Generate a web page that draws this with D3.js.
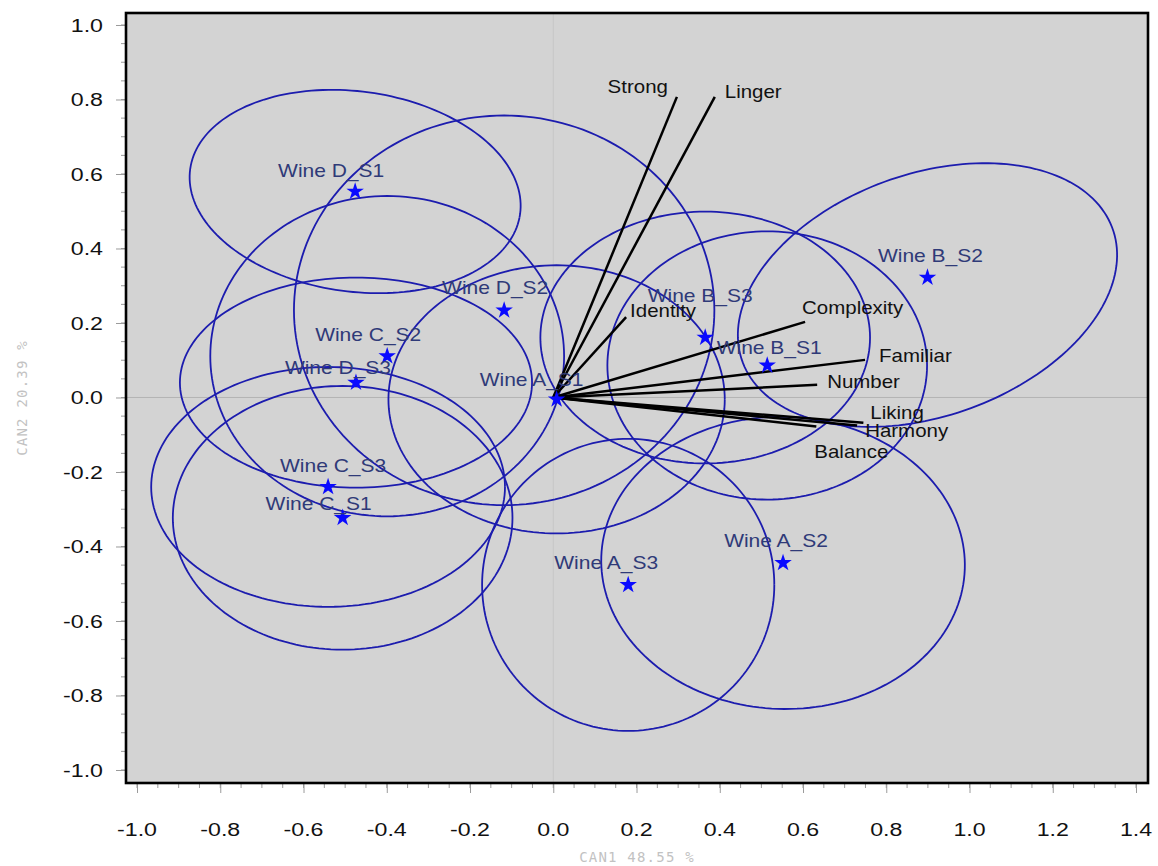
<!DOCTYPE html>
<html><head><meta charset="utf-8">
<script src="https://cdn.jsdelivr.net/npm/d3@7"></script>
<style>body{margin:0;background:#fff}svg{display:block}</style>
</head><body><svg id="c" width="1158" height="866"></svg>
<script>
// ---------------- data ----------------
const wines  = ['Wine D_S1','Wine D_S2','Wine C_S2','Wine D_S3','Wine A_S1','Wine C_S3','Wine C_S1','Wine A_S3','Wine A_S2','Wine B_S3','Wine B_S1','Wine B_S2'];
const wineX  = [-0.476,-0.118,-0.399,-0.474, 0.008,-0.541,-0.506, 0.180, 0.552, 0.365, 0.514, 0.899];
const wineY  = [ 0.553, 0.234, 0.111, 0.040,-0.005,-0.240,-0.323,-0.503,-0.444, 0.161, 0.086, 0.322];

// confidence ellipses (centre, semi-axes in data units, tilt in degrees)
const ellCx    = [-0.476,-0.118,-0.399,-0.474, 0.008,-0.541,-0.506, 0.180, 0.552, 0.365, 0.514, 0.899];
const ellCy    = [ 0.553, 0.234, 0.111, 0.040,-0.005,-0.240,-0.323,-0.503,-0.444, 0.161, 0.086, 0.275];
const ellRx    = [ 0.401, 0.505, 0.425, 0.423, 0.404, 0.425, 0.408, 0.351, 0.437, 0.396, 0.384, 0.480];
const ellRy    = [ 0.268, 0.523, 0.430, 0.282, 0.360, 0.322, 0.354, 0.392, 0.392, 0.338, 0.360, 0.320];
const ellAngle = [ -10,   0,     0,     0,     0,     0,     0,     0,    -4,     0,     0,    25  ];

const attrs  = ['Strong','Linger','Identity','Complexity','Familiar','Number','Liking','Harmony','Balance'];
const attrX  = [0.297, 0.388, 0.175, 0.605, 0.749, 0.634, 0.745, 0.730, 0.632];
const attrY  = [0.807, 0.807, 0.216, 0.203, 0.101, 0.034,-0.068,-0.075,-0.078];

const xTicks      = [-1.0,-0.8,-0.6,-0.4,-0.2,0.0,0.2,0.4,0.6,0.8,1.0,1.2,1.4];
const xTickLabels = ['-1.0','-0.8','-0.6','-0.4','-0.2','0.0','0.2','0.4','0.6','0.8','1.0','1.2','1.4'];
const yTicks      = [-1.0,-0.8,-0.6,-0.4,-0.2,0.0,0.2,0.4,0.6,0.8,1.0];
const yTickLabels = ['-1.0','-0.8','-0.6','-0.4','-0.2','0.0','0.2','0.4','0.6','0.8','1.0'];
const xTitle = 'CAN1 48.55 %';
const yTitle = 'CAN2 20.39 %';

// ---------------- layout ----------------
const wineLabelDx = [-24,-9,-19,-18,-25, 5,-24,-22,-7,-5, 2, 3];
const wineLabelDy = [-21,-22,-21,-15,-19,-21,-14,-22,-22,-42,-18,-22];
const attrLabelDx = [-9, 10, 4, -3, 14, 10, 7, 8, -2];
const attrLabelDy = [-10,-5,-6,-14,-4,-3,-10, 5, 25];
const attrAnchor  = ['end','start','start','start','start','start','start','start','start'];

const plot = {left:126, right:1148, top:13, bottom:783};
const svg = d3.select('#c');
const x = d3.scaleLinear().domain([-1.0265, 1.4288]).range([plot.left, plot.right]);
const y = d3.scaleLinear().domain([-1.0349, 1.0322]).range([plot.bottom, plot.top]);

const FONT = '"Liberation Sans", Arial, Helvetica, sans-serif';
function stretchText(parent, px, py, str, o) {
  const g = parent.append('g').attr('transform', `translate(${px},${py}) scale(${o.sx},1)`);
  return g.append('text').text(str)
    .attr('text-anchor', o.anchor || 'middle')
    .attr('dy', '0.35em')
    .attr('font-family', o.family || FONT)
    .attr('font-size', o.size)
    .attr('fill', o.fill || '#000');
}

// background
svg.append('rect').attr('x', plot.left).attr('y', plot.top)
  .attr('width', plot.right - plot.left).attr('height', plot.bottom - plot.top)
  .attr('fill', '#d3d3d3');

svg.append('defs').append('clipPath').attr('id','clip').append('rect')
  .attr('x', plot.left).attr('y', plot.top)
  .attr('width', plot.right - plot.left).attr('height', plot.bottom - plot.top);
const inner = svg.append('g').attr('clip-path','url(#clip)');

// zero reference lines
inner.append('line').attr('x1', plot.left).attr('x2', plot.right)
  .attr('y1', y(0)).attr('y2', y(0)).attr('stroke', '#b4b4b4').attr('stroke-width', 1);
inner.append('line').attr('y1', plot.top).attr('y2', plot.bottom)
  .attr('x1', x(0)).attr('x2', x(0)).attr('stroke', '#c6c6c6').attr('stroke-width', 1);

// ellipses
const line = d3.line().x(d => x(d[0])).y(d => y(d[1]));
const N = 180;
wines.forEach((w, i) => {
  const a = ellRx[i], b = ellRy[i], th = ellAngle[i] * Math.PI / 180;
  const pts = d3.range(N + 1).map(k => {
    const t = 2 * Math.PI * k / N;
    const u = a * Math.cos(t), v = b * Math.sin(t);
    return [ellCx[i] + u * Math.cos(th) - v * Math.sin(th),
            ellCy[i] + u * Math.sin(th) + v * Math.cos(th)];
  });
  inner.append('path').attr('d', line(pts)).attr('fill', 'none')
    .attr('stroke', '#1c1cae').attr('stroke-width', 1.8);
});

// attribute vectors
attrs.forEach((a, i) => {
  inner.append('line').attr('x1', x(0)).attr('y1', y(0))
    .attr('x2', x(attrX[i])).attr('y2', y(attrY[i]))
    .attr('stroke', '#000').attr('stroke-width', 2.5);
});

// stars
const star = d3.symbol().type(d3.symbolStar).size(95);
wines.forEach((w, i) => {
  inner.append('path').attr('d', star())
    .attr('transform', `translate(${x(wineX[i])},${y(wineY[i])})`)
    .attr('fill', '#0a0aff');
});

// wine labels
wines.forEach((w, i) => {
  stretchText(inner, x(wineX[i]) + wineLabelDx[i], y(wineY[i]) + wineLabelDy[i], w,
    {size: 17.5, sx: 1.2, fill: '#2f3a78'});
});

// attribute labels
attrs.forEach((a, i) => {
  stretchText(inner, x(attrX[i]) + attrLabelDx[i], y(attrY[i]) + attrLabelDy[i], a,
    {size: 17.5, sx: 1.17, anchor: attrAnchor[i], fill: '#111'});
});

// axes ticks
const xMinor = d3.range(-1.0, 1.4001, 0.05);
const yMinor = d3.range(-1.0, 1.0001, 0.05);
const tickCol = '#9a9a9a';
xMinor.forEach(v => svg.append('line').attr('x1', x(v)).attr('x2', x(v))
  .attr('y1', plot.bottom).attr('y2', plot.bottom + 5).attr('stroke', tickCol).attr('stroke-width', 1));
yMinor.forEach(v => svg.append('line').attr('y1', y(v)).attr('y2', y(v))
  .attr('x1', plot.left - 5).attr('x2', plot.left).attr('stroke', tickCol).attr('stroke-width', 1));

const xAxis = d3.axisBottom(x).tickValues(xTicks).tickFormat((d, i) => xTickLabels[i]).tickSize(10).tickPadding(0);
const gx = svg.append('g').attr('transform', `translate(0,${plot.bottom})`).call(xAxis);
gx.select('.domain').remove();
gx.selectAll('.tick line').attr('stroke', tickCol);
gx.selectAll('.tick text').remove();
xTicks.forEach((v, i) => stretchText(svg, x(v), 829, xTickLabels[i], {size: 19, sx: 1.22, fill: '#111'}));

const yAxis = d3.axisLeft(y).tickValues(yTicks).tickFormat((d, i) => yTickLabels[i]).tickSize(10).tickPadding(0);
const gy = svg.append('g').attr('transform', `translate(${plot.left},0)`).call(yAxis);
gy.select('.domain').remove();
gy.selectAll('.tick line').attr('stroke', tickCol);
gy.selectAll('.tick text').remove();
yTicks.forEach((v, i) => stretchText(svg, 103, y(v), yTickLabels[i], {size: 19, sx: 1.22, anchor: 'end', fill: '#111'}));

// frame
svg.append('rect').attr('x', plot.left).attr('y', plot.top)
  .attr('width', plot.right - plot.left).attr('height', plot.bottom - plot.top)
  .attr('fill', 'none').attr('stroke', '#000').attr('stroke-width', 2.6);

// axis titles
svg.append('text').text(xTitle)
  .attr('x', (plot.left + plot.right) / 2).attr('y', 857).attr('dy', '0.35em')
  .attr('text-anchor', 'middle').attr('font-family', '"DejaVu Sans Mono", monospace')
  .attr('font-size', 14).attr('fill', '#c2c2c2').attr('letter-spacing', 1.2);
svg.append('text').text(yTitle)
  .attr('transform', `translate(22,${(plot.top + plot.bottom) / 2}) rotate(-90)`)
  .attr('dy', '0.35em')
  .attr('text-anchor', 'middle').attr('font-family', '"DejaVu Sans Mono", monospace')
  .attr('font-size', 14).attr('fill', '#c2c2c2').attr('letter-spacing', 1.2);
</script></body></html>
